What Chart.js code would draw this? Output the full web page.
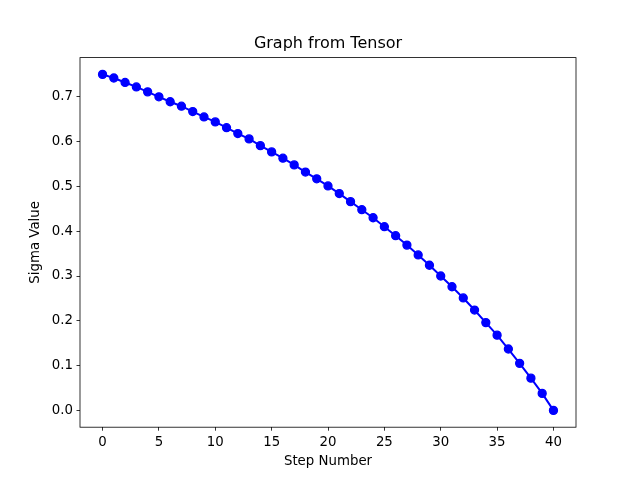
<!DOCTYPE html>
<html>
<head>
<meta charset="utf-8">
<script src="https://cdn.jsdelivr.net/npm/chart.js@4"></script>
<style>
  body { margin: 0; background: #fff; }
  #wrap { width: 640px; height: 480px; }
</style>
</head>
<body>
<div id="wrap"><canvas id="chart" width="640" height="480"></canvas></div>
<script>
// Values
const steps = [0, 1, 2, 3, 4, 5, 6, 7, 8, 9, 10, 11, 12, 13, 14, 15, 16, 17, 18, 19, 20,
  21, 22, 23, 24, 25, 26, 27, 28, 29, 30, 31, 32, 33, 34, 35, 36, 37, 38, 39, 40];
const sigmaValues = [0.750, 0.742, 0.732, 0.722, 0.711, 0.700, 0.689, 0.679, 0.667, 0.655,
  0.644, 0.631, 0.618, 0.606, 0.591, 0.577, 0.563, 0.548, 0.532, 0.517,
  0.501, 0.484, 0.466, 0.448, 0.430, 0.410, 0.390, 0.369, 0.347, 0.324,
  0.300, 0.276, 0.251, 0.224, 0.196, 0.168, 0.137, 0.105, 0.072, 0.038, 0.000];
const xTicks = [0, 5, 10, 15, 20, 25, 30, 35, 40];
const yTicks = [0.0, 0.1, 0.2, 0.3, 0.4, 0.5, 0.6, 0.7];

const FONT = 'DejaVu Sans';

// draws the box around the plot area like matplotlib spines
const frame = {
  id: 'frame',
  afterDatasetsDraw(chart) {
    const a = chart.chartArea;
    const ctx = chart.ctx;
    ctx.save();
    ctx.strokeStyle = '#000';
    ctx.lineWidth = 0.8;
    ctx.strokeRect(a.left, a.top, a.right - a.left, a.bottom - a.top);
    ctx.restore();
  }
};

new Chart(document.getElementById('chart'), {
  type: 'line',
  data: {
    datasets: [{
      data: steps.map((s, i) => ({ x: s, y: sigmaValues[i] })),
      borderColor: '#0000ff',
      backgroundColor: '#0000ff',
      borderWidth: 2,
      pointRadius: 4,
      pointBorderWidth: 1.3,
      pointBackgroundColor: '#0000ff',
      pointBorderColor: '#0000ff',
      tension: 0,
      fill: false
    }]
  },
  options: {
    responsive: false,
    devicePixelRatio: 1,
    animation: false,
    // left padding of 16 keeps the title centred over the plot area
    layout: { padding: { left: 16, right: 0, top: 0, bottom: 0 } },
    plugins: {
      legend: { display: false },
      tooltip: { enabled: false },
      title: {
        display: true,
        text: 'Graph from Tensor',
        color: '#000',
        font: { family: FONT, size: 16, weight: 'normal' },
        padding: { top: 34.5, bottom: 3.9 }
      }
    },
    scales: {
      x: {
        type: 'linear',
        min: -2,
        max: 42,
        afterBuildTicks: (scale) => { scale.ticks = xTicks.map(v => ({ value: v })); },
        afterFit: (scale) => { scale.height = 52.8; },
        border: { display: false },
        grid: { drawOnChartArea: false, drawTicks: true, tickLength: 3.5, tickColor: '#000', tickWidth: 0.8 },
        ticks: {
          color: '#000',
          padding: 3.5,
          maxRotation: 0,
          font: { family: FONT, size: 13.33 },
          callback: (v) => String(v)
        },
        title: {
          display: true,
          text: 'Step Number',
          color: '#000',
          font: { family: FONT, size: 13.33 },
          padding: { top: 0, bottom: 10 }
        }
      },
      y: {
        type: 'linear',
        min: -0.0375,
        max: 0.7875,
        afterBuildTicks: (scale) => { scale.ticks = yTicks.map(v => ({ value: v })); },
        afterFit: (scale) => { scale.width = 64; },
        border: { display: false },
        grid: { drawOnChartArea: false, drawTicks: true, tickLength: 3.5, tickColor: '#000', tickWidth: 0.8 },
        ticks: {
          color: '#000',
          padding: 3.5,
          font: { family: FONT, size: 13.33 },
          callback: (v) => v.toFixed(1)
        },
        title: {
          display: true,
          text: 'Sigma Value',
          color: '#000',
          font: { family: FONT, size: 13.33 },
          padding: { top: 11.5, bottom: 0 }
        }
      },
      // empty right-hand strip so the plot area ends where matplotlib's does
      yRight: {
        type: 'linear',
        position: 'right',
        display: true,
        afterFit: (scale) => { scale.width = 64; },
        border: { display: false },
        grid: { display: false },
        ticks: { display: false }
      }
    }
  },
  plugins: [frame]
});
</script>
</body>
</html>
